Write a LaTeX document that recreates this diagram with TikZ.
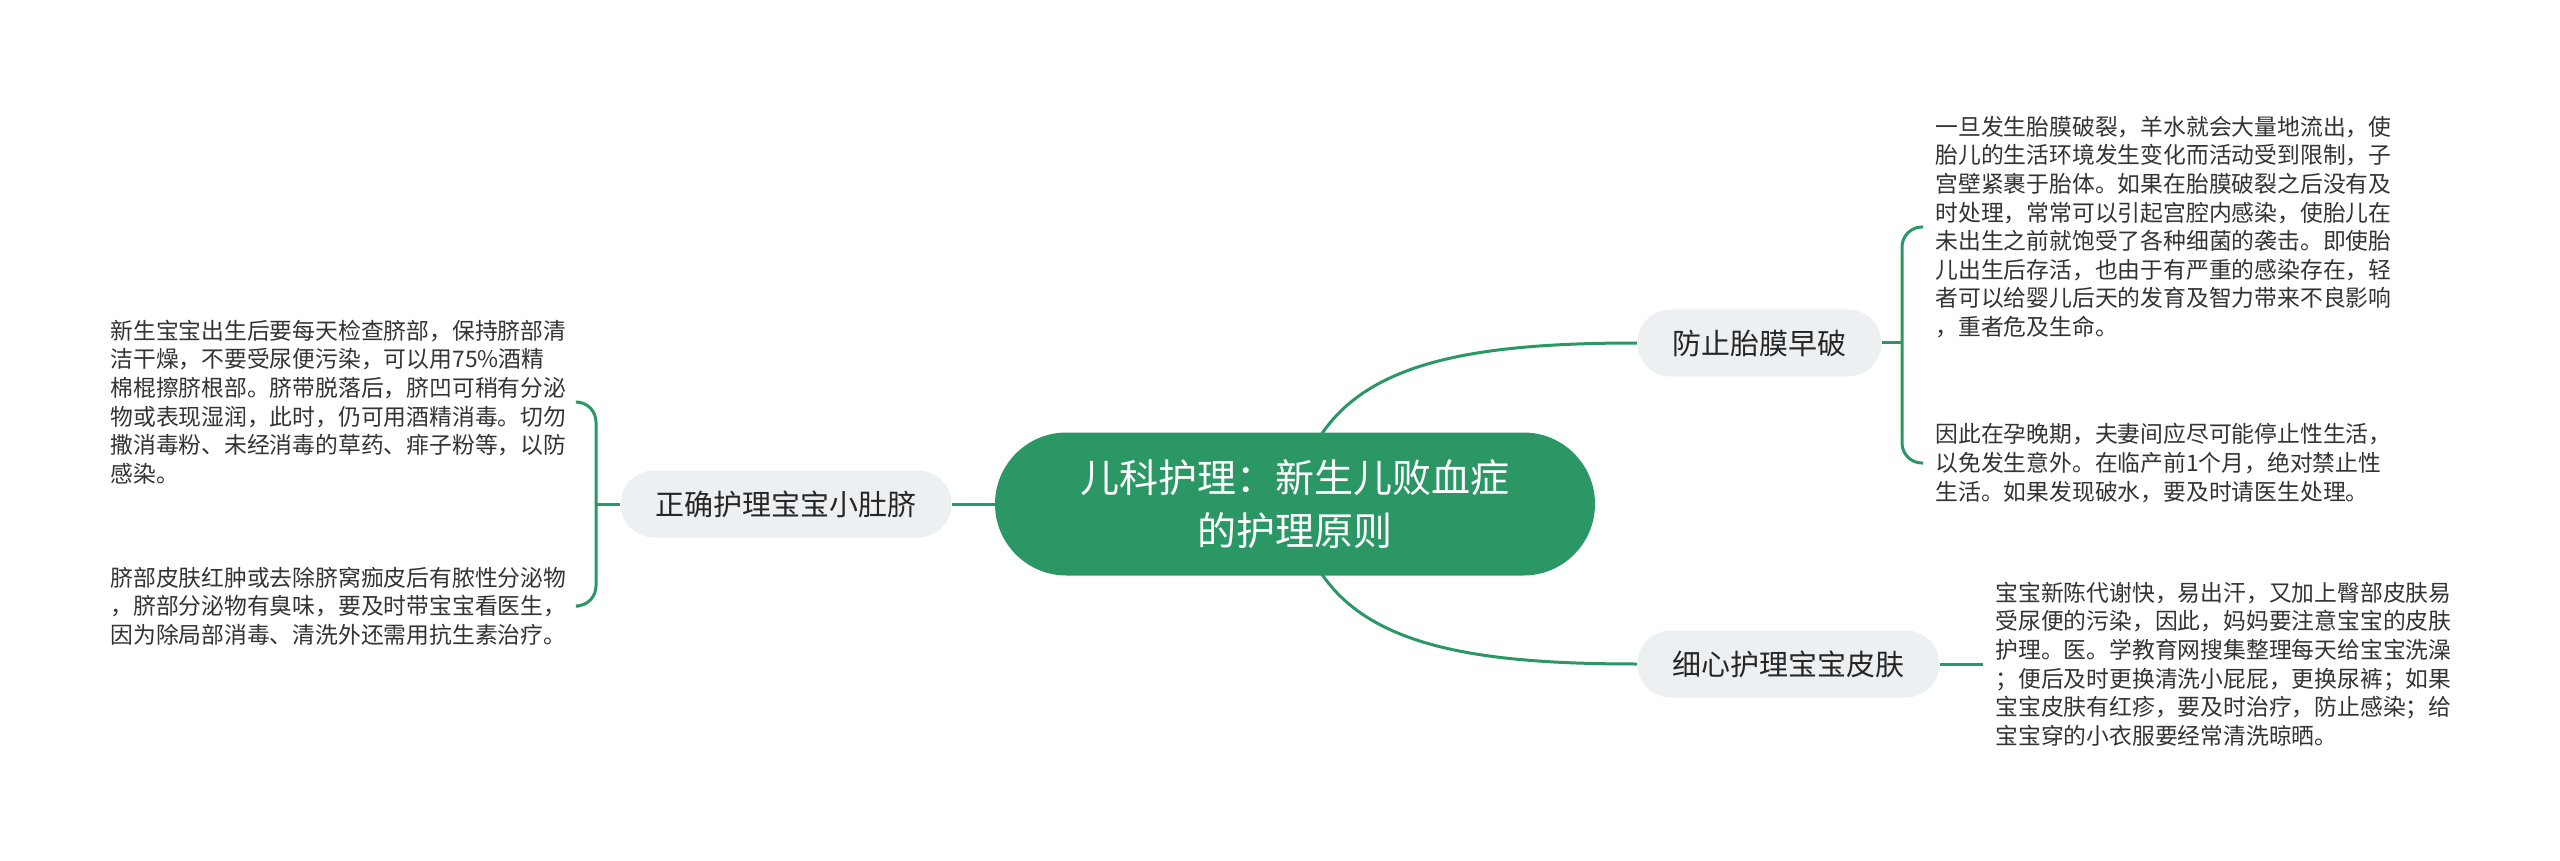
\documentclass[tikz,border=0pt]{standalone}
\usepackage{fontspec}
\setmainfont{Noto Sans CJK SC}
\usetikzlibrary{backgrounds}
\definecolor{mindgreen}{HTML}{2B9765}
\definecolor{topicgray}{HTML}{EDF0F3}
\definecolor{inktext}{HTML}{333333}

\begin{document}
\begin{tikzpicture}[x=0.5pt, y=-0.5pt,
    root/.style={fill=mindgreen, text=white, rounded corners=35.75pt, minimum width=300pt,
      minimum height=71.5pt, align=center, font=\fontsize{19.5pt}{26.5pt}\selectfont},
    topic/.style={fill=topicgray, text=black!85, rounded corners=16.75pt, minimum height=33.5pt,
      inner xsep=17.5pt, font=\fontsize{14.5pt}{17pt}\selectfont},
    leaf/.style={text=inktext, inner sep=0pt, text width=230pt, align=left,
      font=\fontsize{11.4pt}{14.3pt}\selectfont},
    link/.style={draw=mindgreen, line width=1.5pt}]
      \useasboundingbox (0,0) rectangle (2560,861);

      % Tema central
      \node[root] (root) at (1295,504) {儿科护理：新生儿败血症\\的护理原则};

      % Ramos
      \node[topic, anchor=east] (navel) at (952,504) {正确护理宝宝小肚脐};
      \node[topic, anchor=west] (membrane) at (1637,343) {防止胎膜早破};
      \node[topic, anchor=west] (skin) at (1637,664) {细心护理宝宝皮肤};

      % Textos de防止胎膜早破
      \node[leaf, anchor=west] (mem1) at (1935,227) {一旦发生胎膜破裂，羊水就会大量地流出，使\\胎儿的生活环境发生变化而活动受到限制，子\\宫壁紧裹于胎体。如果在胎膜破裂之后没有及\\时处理，常常可以引起宫腔内感染，使胎儿在\\未出生之前就饱受了各种细菌的袭击。即使胎\\儿出生后存活，也由于有严重的感染存在，轻\\者可以给婴儿后天的发育及智力带来不良影响\\，重者危及生命。};
      \node[leaf, anchor=west] (mem2) at (1935,463) {因此在孕晚期，夫妻间应尽可能停止性生活，\\以免发生意外。在临产前1个月，绝对禁止性\\生活。如果发现破水，要及时请医生处理。};

      % Texto de细心护理宝宝皮肤
      \node[leaf, anchor=west] (skin1) at (1995,664) {宝宝新陈代谢快，易出汗，又加上臀部皮肤易\\受尿便的污染，因此，妈妈要注意宝宝的皮肤\\护理。医。学教育网搜集整理每天给宝宝洗澡\\；便后及时更换清洗小屁屁，更换尿裤；如果\\宝宝皮肤有红疹，要及时治疗，防止感染；给\\宝宝穿的小衣服要经常清洗晾晒。};

      % Textos de正确护理宝宝小肚脐
      \node[leaf, anchor=west] (nav1) at (110,402) {新生宝宝出生后要每天检查脐部，保持脐部清\\洁干燥，不要受尿便污染，可以用75\%酒精\\棉棍擦脐根部。脐带脱落后，脐凹可稍有分泌\\物或表现湿润，此时，仍可用酒精消毒。切勿\\撒消毒粉、未经消毒的草药、痱子粉等，以防\\感染。};
      \node[leaf, anchor=west] (nav2) at (110,606) {脐部皮肤红肿或去除脐窝痂皮后有脓性分泌物\\，脐部分泌物有臭味，要及时带宝宝看医生，\\因为除局部消毒、清洗外还需用抗生素治疗。};

      % Pontos das chaves
      \coordinate (kmem) at (1902,343);
      \coordinate (knav) at (596,504);

      % Ligacoes
      \begin{scope}[on background layer]
        \fill[white] (0,0) rectangle (2560,861);
        \draw[link] (root.center) .. controls (1318,370) and (1440,343) .. (membrane.west);
        \draw[link] (root.center) .. controls (1318,638) and (1440,664) .. (skin.west);
      \end{scope}
      \draw[link] (root) -- (navel);
      \draw[link] (membrane) -- (kmem);
      \draw[link] (skin) -- ([xshift=-6pt]skin1.west);
      \draw[link] (navel) -- (knav);
      \draw[link, rounded corners=10pt] ([xshift=-6pt]mem1.west) -| (kmem) |- ([xshift=-6pt]mem2.west);
      \draw[link, rounded corners=10pt] ([xshift=4pt]nav1.east) -| (knav) |- ([xshift=4pt]nav2.east);
    \end{tikzpicture}
\end{document}
